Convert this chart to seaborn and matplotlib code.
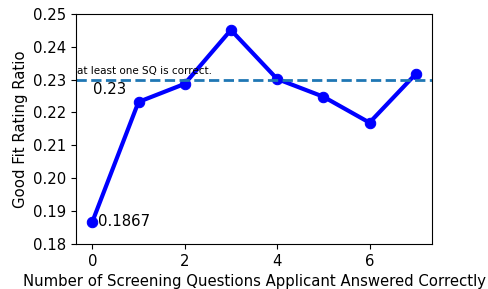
import matplotlib
matplotlib.use("Agg")
import matplotlib.pyplot as plt
import seaborn as sns
import pandas as pd

n_correct = [0, 1, 2, 3, 4, 5, 6, 7]
good_fit_ratio = [0.1867, 0.2232, 0.2287, 0.2451, 0.2302, 0.2248, 0.2169, 0.2317]
baseline = 0.23

df = pd.DataFrame({"n_correct": n_correct, "ratio": good_fit_ratio})

plt.rcParams["font.size"] = 10.7

fig, ax = plt.subplots(figsize=(4.88, 2.89), dpi=100)
fig.subplots_adjust(left=0.156, right=0.885, top=0.952, bottom=0.156)

sns.lineplot(data=df, x="n_correct", y="ratio", ax=ax, color="blue",
             linewidth=3, marker="o", markersize=7.5, markeredgecolor="blue")
ax.axhline(baseline, linestyle="--", color="#1f77b4", linewidth=2)

ax.text(-0.33, baseline + 0.0012, "at least one SQ is correct.", fontsize=7.5, va="bottom")
ax.text(0.02, baseline - 0.0007, "0.23", fontsize=10.7, va="top")
ax.text(0.12, good_fit_ratio[0], "0.1867", fontsize=10.7, va="center")

ax.set_ylim(0.18, 0.25)
ax.set_xticks([0, 2, 4, 6])
ax.set_xlabel("Number of Screening Questions Applicant Answered Correctly")
ax.set_ylabel("Good Fit Rating Ratio")

fig.savefig("out.png", dpi=100)
